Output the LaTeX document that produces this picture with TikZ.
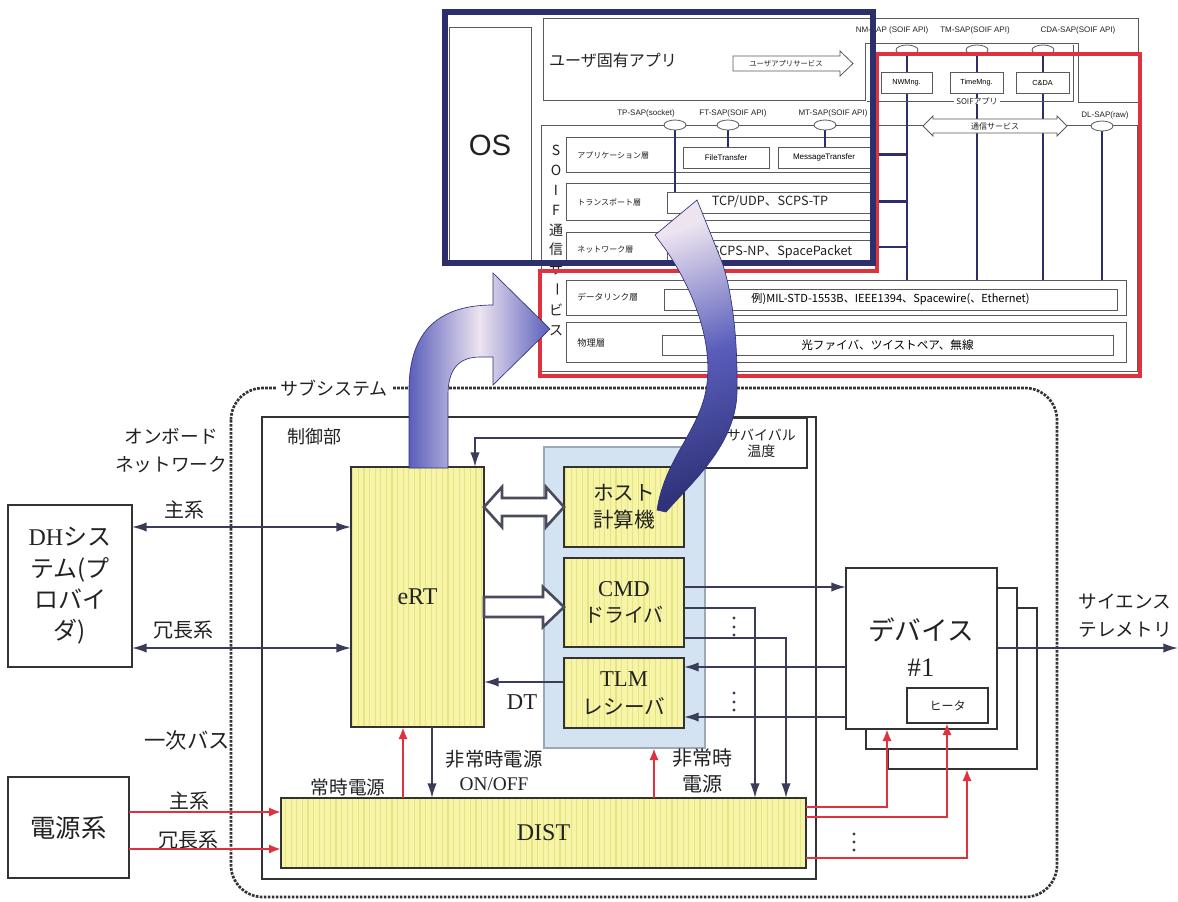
\documentclass[tikz,border=0pt]{standalone}
\usepackage{fontspec}
\setmainfont{Liberation Serif}
\newfontfamily\jp{Noto Sans CJK JP}
\newfontfamily\lsans{Liberation Sans}
\usetikzlibrary{arrows.meta,patterns.meta,shapes.geometric}
\newcommand\fsz[2]{\fontsize{#1}{#2}\selectfont}
\newcommand\pxbox[7]{\node[#6,minimum width={(#4-#2)*0.75pt},minimum height={(#5-#3)*0.75pt},inner sep=0pt,outer sep=0pt,align=center] (#1) at ({(#2+#4)/2},{(#3+#5)/2}) {#7};}
\definecolor{dk}{HTML}{333333}
\definecolor{ln}{HTML}{3B3B5A}
\definecolor{hg}{HTML}{4B4B5E}
\definecolor{navy}{HTML}{2C2F6C}
\definecolor{rd}{HTML}{E0323E}
\definecolor{ylw}{HTML}{F6F4A6}
\definecolor{stripe}{HTML}{E8E484}
\definecolor{lblue}{HTML}{D3E3F2}
\definecolor{pg}{HTML}{9AA8B8}
\definecolor{tg}{HTML}{5A5A5A}
\definecolor{tx}{HTML}{222222}
\definecolor{ab}{HTML}{5A5EBB}
\definecolor{abl}{HTML}{EDE4F0}
\definecolor{abd}{HTML}{30337A}
\begin{document}
\begin{tikzpicture}[x=0.75pt,y=-0.75pt,
  thinl/.style={draw=tg,line width=0.6pt},
  sbox/.style={draw=tg,line width=0.6pt,fill=white},
  nv/.style={draw=navy,line width=1.8pt},
  conn/.style={draw=ln,line width=1.2pt},
  rconn/.style={draw=rd,line width=2pt},
  arr/.style={-{Latex[length=11pt,width=7pt]}},
  arrb/.style={{Latex[length=11pt,width=7pt]}-{Latex[length=11pt,width=7pt]}},
  rarr/.style={-{Latex[length=9pt,width=7pt]}},
  ybox/.style={draw=dk,line width=2pt,preaction={fill=ylw},pattern={Lines[angle=90,distance=4.2pt,line width=1pt]},pattern color=stripe,text=tx},
  wbox/.style={draw=dk,line width=1.8pt,fill=white,text=tx},
  hollow/.style={draw=hg,line width=2pt,fill=white,line join=miter},
  sap/.style={ellipse,draw=tg,line width=0.6pt,fill=white,minimum width=16.5pt,minimum height=7.5pt,inner sep=0pt},
  saplab/.style={font=\lsans\fsz{6}{7},text=tx,inner sep=0.5pt},
  rowl/.style={font=\jp\fsz{6}{7},text=tx,anchor=west,inner sep=0pt},
  vt/.style={font=\jp\fsz{10.5}{11},text=tx,inner sep=0pt},
  lab/.style={text=tx,inner sep=0pt,align=center},
]
\useasboundingbox (0,0) rectangle (1178,901);
\fill[white] (0,0) rectangle (1178,901);

% ---------------- lower part ----------------
\draw[draw=dk,line width=2pt,dash pattern=on 2pt off 1pt,rounded corners=24pt] (231,388) rectangle (1057,897);
\node[lab,font=\jp\fsz{13.5}{15},fill=white,inner xsep=3pt,inner ysep=1pt] (subs) at (334,388) {サブシステム};

\pxbox{ctrl}{262}{417}{816}{879}{draw=dk,line width=1.8pt}{}
\node[lab,font=\jp\fsz{13.5}{15}] (ctrll) at (314,437) {制御部};
\pxbox{panel}{544}{447}{705}{748}{draw=pg,line width=0.8pt,fill=lblue}{}
\pxbox{surv}{705}{418}{807}{468}{draw=dk,line width=1.4pt,fill=white,text=tx,font=\jp\fsz{10.5}{12}}{\hspace*{8pt}サバイバル\\\hspace*{8pt}温度}

\pxbox{ert}{351}{467}{484}{727}{ybox,font=\fsz{18}{20}}{eRT}
\pxbox{host}{564}{467}{684}{547}{ybox,font=\jp\fsz{15.5}{20}}{ホスト\\計算機}
\pxbox{cmd}{564}{558}{684}{647}{ybox,font=\jp\fsz{15}{19.5}}{{\rmfamily\fsz{17}{19.5}CMD}\\ドライバ}
\pxbox{tlm}{564}{658}{684}{728}{ybox,font=\jp\fsz{15.5}{21}}{{\rmfamily\fsz{17}{21}TLM}\\レシーバ}
\pxbox{dist}{281}{798}{806}{868}{ybox,font=\fsz{18}{20}}{DIST}

\pxbox{dh}{8}{505}{132}{667}{wbox,font=\jp\fsz{18}{23.5}}{{\rmfamily DH}シス\\テム(プ\\ロバイ\\ダ)}
\pxbox{pwr}{8}{777}{129}{878}{wbox,font=\jp\fsz{19}{21}}{電源系}

\pxbox{dev3}{888}{608}{1037}{769}{wbox,line width=2.2pt}{}
\pxbox{dev2}{866}{588}{1017}{749}{wbox,line width=2.2pt}{}
\pxbox{dev}{846}{568}{997}{729}{wbox,line width=2.2pt}{}
\node[lab,font=\jp\fsz{20}{27}] (devt) at (921,647) {デバイス\\{\rmfamily\#1}};
\pxbox{heat}{907}{688}{988}{723}{wbox,line width=1.6pt,font=\jp\fsz{9}{10}}{ヒータ}

% labels
\node[lab,font=\jp\fsz{14}{21}] (onb) at (171,451) {オンボード\\ネットワーク};
\node[lab,font=\jp\fsz{15}{16}] (l1) at (184,510) {主系};
\node[lab,font=\jp\fsz{15}{16}] (l2) at (183,630) {冗長系};
\node[lab,font=\jp\fsz{16}{17}] (l3) at (187,740) {一次バス};
\node[lab,font=\jp\fsz{15}{16}] (l4) at (189,801) {主系};
\node[lab,font=\jp\fsz{15}{16}] (l5) at (188,840) {冗長系};
\node[lab,font=\jp\fsz{14}{15}] (l6) at (348,787) {常時電源};
\node[lab,font=\jp\fsz{14.5}{18}] (l7) at (494,770) {非常時電源\\{\rmfamily ON/OFF}};
\node[lab,font=\jp\fsz{15}{20}] (l8) at (702,771) {非常時\\電源};
\node[lab,font=\fsz{17}{18}] (l9) at (522,702) {DT};
\node[lab,font=\jp\fsz{14}{21}] (l10) at (1125,616) {サイエンス\\テレメトリ};

% connectors
\draw[conn,arrb] (dh.east |- 0,527) -- (ert.west |- 0,527);
\draw[conn,arrb] (dh.east |- 0,648) -- (ert.west |- 0,648);
\draw[conn,arr] (surv.west |- 0,438) -| (ert.north -| 475,0);
\draw[conn,arr] (tlm.west |- 0,682) -- (ert.east |- 0,682);
\draw[conn,arr] (cmd.east |- 0,587) -- (dev.west |- 0,587);
\draw[conn,arr] (cmd.east |- 0,608) -| (dist.north -| 755,0);
\draw[conn,arr] (cmd.east |- 0,638) -| (dist.north -| 786,0);
\draw[conn,arr] (dev.west |- 0,667) -- (tlm.east |- 0,667);
\draw[conn,arr] (dev.west |- 0,717) -- (tlm.east |- 0,717);
\coordinate (sci) at (1178,648);
\draw[conn,arr] (dev.east |- 0,648) -- (sci);
\draw[conn,arr] (ert.south -| 432,0) -- (dist.north -| 432,0);

\draw[rconn,rarr] (pwr.east |- 0,812) -- (dist.west |- 0,812);
\draw[rconn,rarr] (pwr.east |- 0,849) -- (dist.west |- 0,849);
\draw[rconn,rarr] (dist.north -| 403,0) -- (ert.south -| 403,0);
\draw[rconn,rarr] (dist.north -| 654,0) -- (panel.south -| 654,0);
\draw[rconn,rarr] (dist.east |- 0,807) -| (dev.south -| 887,0);
\draw[rconn,rarr] (dist.east |- 0,817) -| (heat.south -| 947,0);
\draw[rconn,rarr] (dist.east |- 0,858) -| (dev3.south -| 967,0);

\foreach \yy in {618,627,635,693,702,710} \fill[ln] (734,\yy) circle (1.6);
\foreach \yy in {834,842,850} \fill[ln] (854,\yy) circle (1.6);

% hollow arrows
\draw[hollow] (484,507) -- (502,487) -- (502,498) -- (546,498) -- (546,487) -- (564,507) -- (546,527) -- (546,516) -- (502,516) -- (502,527) -- cycle;
\draw[hollow] (484,597) -- (543,597) -- (543,587) -- (564,607) -- (543,627) -- (543,617) -- (484,617) -- cycle;

% ---------------- top block ----------------
\draw[thinl] (543,18) -- (1138,18) -- (1138,102) -- (1078,102) -- (1078,43) -- (865,43) -- (865,100) -- (543,100) -- cycle;
\draw[thinl] (449,27) rectangle (531,262);
\draw[thinl] (541,125) rectangle (1137,371);
\node[lab,font=\jp\fsz{12}{13}] (uapp) at (613,60) {ユーザ固有アプリ};
\draw[thinl,fill=white] (733,56) -- (840,56) -- (840,51) -- (853,63.5) -- (840,76) -- (840,71) -- (733,71) -- cycle;
\node[lab,font=\jp\fsz{5.5}{6}] (uas) at (786,63.5) {ユーザアプリサービス};
\node[lab,font=\lsans\fsz{22}{24}] (os) at (490,145) {OS};

\pxbox{rapp}{566}{137}{873}{172}{sbox}{}
\pxbox{rtr}{566}{183}{873}{220}{sbox}{}
\pxbox{rnw}{566}{232}{873}{262}{sbox}{}
\pxbox{rdl}{566}{280}{1126}{315}{sbox}{}
\pxbox{rph}{566}{322}{1126}{362}{sbox}{}
\node[rowl] (lapp) at (577,155) {アプリケーション層};
\node[rowl] (ltr) at (577,202) {トランスポート層};
\node[rowl] (lnw) at (577,250) {ネットワーク層};
\node[rowl,font=\jp\fsz{6.5}{7}] (ldl) at (577,297) {データリンク層};
\node[rowl,font=\jp\fsz{7}{8}] (lph) at (577,343) {物理層};

\pxbox{ft}{683}{147}{769}{168}{sbox,font=\lsans\fsz{6}{7}}{FileTransfer}
\pxbox{mt}{778}{147}{870}{168}{sbox,font=\lsans\fsz{6}{7}}{MessageTransfer}
\pxbox{tcp}{667}{192}{873}{213}{sbox}{}
\node[lab,font=\jp\fsz{9.5}{10}] (tcpt) at (770,202) {TCP/UDP、SCPS-TP};
\pxbox{scps}{667}{240}{873}{262}{sbox}{}
\node[lab,font=\jp\fsz{9.5}{10}] (scpst) at (782,252) {SCPS-NP、SpacePacket};
\pxbox{dli}{664}{289}{1117}{310}{sbox,font=\jp\fsz{8.3}{9}}{例)MIL-STD-1553B、IEEE1394、Spacewire(、Ethernet)}
\pxbox{phi}{662}{335}{1113}{355}{sbox,font=\jp\fsz{8.7}{9}}{光ファイバ、ツイストペア、無線}

% SAP points
\coordinate (tp) at (675,125);
\coordinate (fp) at (728,125);
\coordinate (mp) at (825,125);
\coordinate (nmp) at (907,50);
\coordinate (tmp) at (977,50);
\coordinate (cdp) at (1043,50);
\coordinate (dlp) at (1102,126);

\draw[nv] (tp) -- (tcp.north -| tp);
\draw[nv] (fp) -- (ft.north -| fp);
\draw[nv] (mp) -- (mt.north -| mp);
\draw[nv] (nmp) -- (rdl.north -| nmp);
\draw[nv] (tmp) -- (rdl.north -| tmp);
\draw[nv] (cdp) -- (rdl.north -| cdp);
\draw[nv] (dlp) -- (rdl.north -| dlp);
\draw[nv] (rapp.east) -- (rapp.east -| nmp);
\draw[nv] (rtr.east) -- (rtr.east -| nmp);
\draw[nv] (rnw.east) -- (rnw.east -| nmp);

\node[sap] (tpe) at (tp) {};
\node[sap] (fpe) at (fp) {};
\node[sap] (mpe) at (mp) {};
\node[sap] (nme) at (nmp) {};
\node[sap] (tme) at (tmp) {};
\node[sap] (cde) at (cdp) {};
\node[sap] (dle) at (dlp) {};
\node[saplab] (tpl) at (646,113) {TP-SAP(socket)};
\node[saplab] (fpl) at (733,113) {FT-SAP(SOIF API)};
\node[saplab] (mpl) at (833,113) {MT-SAP(SOIF API)};
\node[saplab] (nml) at (892,30) {NM-SAP (SOIF API)};
\node[saplab] (tml) at (975,30) {TM-SAP(SOIF API)};
\node[saplab] (cdl) at (1078,30) {CDA-SAP(SOIF API)};
\node[saplab] (dll) at (1105,115) {DL-SAP(raw)};

\pxbox{nwm}{881}{72}{932}{93}{sbox,font=\lsans\fsz{5.5}{6}}{NWMng.}
\pxbox{tim}{950}{72}{1003}{93}{sbox,font=\lsans\fsz{5.5}{6}}{TimeMng.}
\pxbox{cda}{1016}{72}{1069}{93}{sbox,font=\lsans\fsz{5.5}{6}}{C\&DA}

\draw[thinl] (867,101) -- (1073,101) -- (1073,45);
\node[lab,font=\jp\fsz{6}{7},fill=white,inner xsep=2pt] (soifa) at (977,101) {SOIFアプリ};
\draw[thinl,fill=white] (923,126) -- (933,116) -- (933,119) -- (1057,119) -- (1057,116) -- (1067,126) -- (1057,136) -- (1057,133) -- (933,133) -- (933,136) -- cycle;
\node[lab,font=\jp\fsz{6}{7}] (tsv) at (995,126) {通信サービス};

% vertical text
\foreach \c/\yy [count=\i] in {S/150,O/170,I/190,F/210,通/230,信/249,サ/269,ビ/310,ス/331}
  \node[vt] (vt\i) at (556,\yy) {\c};
\node[vt,rotate=-90] (vtb) at (556,289) {ー};

% frames
\draw[rd,line width=3pt,line join=miter] (540,376) -- (540,271) -- (877,271) -- (877,54) -- (1140,54) -- (1140,376) -- cycle;
\draw[navy,line width=4pt] (445,12) rectangle (873,263);

% big arrows
\shadedraw[draw=abd,line width=0.5pt,left color=ab,right color=ab,middle color=abl] (409,468) -- (409,390) .. controls (409,330) and (440,305) .. (493,305) -- (493,273) -- (550,329) -- (493,385) -- (493,357) -- (480,357) .. controls (458,357) and (448,370) .. (448,395) -- (448,468) -- cycle;
\shadedraw[draw=abd,line width=0.5pt,top color=abl,bottom color=abd,middle color=ab,shading angle=20] (697,200) -- (655,235) -- (666,250) .. controls (700,300) and (718,360) .. (702,405) .. controls (690,440) and (664,465) .. (657,510) -- (666,512) .. controls (692,482) and (736,445) .. (737,392) .. controls (738,330) and (730,285) .. (722,262) -- cycle;
\end{tikzpicture}
\end{document}
